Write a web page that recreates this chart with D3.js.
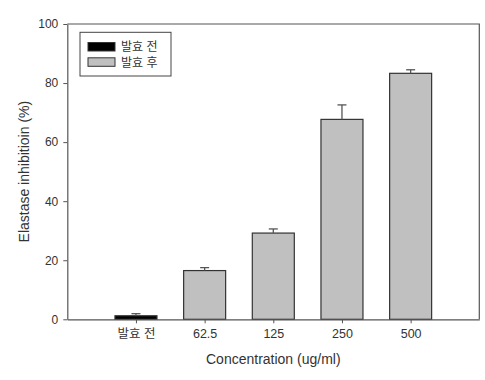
<!DOCTYPE html>
<html><head><meta charset="utf-8">
<script src="https://cdn.jsdelivr.net/npm/d3@7/dist/d3.min.js"></script>
<style>body{margin:0;background:#fff}svg{display:block}</style>
</head><body>
<svg id="c" width="485" height="380"></svg>
<script>
const categories = ["발효 전", "62.5", "125", "250", "500"];
const values = [1.2, 16.5, 29.2, 67.7, 83.3];
const errors = [0.7, 1.0, 1.4, 4.9, 1.2];
const groups = ["before", "after", "after", "after", "after"];
const legendLabels = ["발효 전", "발효 후"];
const yTicks = [0, 20, 40, 60, 80, 100];

const font = "'Liberation Sans', Arial, 'Noto Sans CJK KR', sans-serif";
const svg = d3.select("#c");
const L = 67.3, R = 479.3, T = 24, B = 319.3;
const y = d3.scaleLinear().domain([0, 100]).range([B, T]);
const x = d3.scalePoint().domain(["", ...categories, " "]).range([L, R]);
const color = d3.scaleOrdinal().domain(["before", "after"]).range(["#000000", "#c0c0c0"]);
const bw = 42;
const lineCol = "#555";

// frame top and right
svg.append("path").attr("d", `M${L},${T}H${R}V${B}`).attr("fill", "none").attr("stroke", lineCol).attr("stroke-width", 1.2);

// bars
svg.selectAll("rect.bar").data(values).join("rect")
  .attr("x", (d, i) => x(categories[i]) - bw / 2)
  .attr("y", d => y(d))
  .attr("width", bw)
  .attr("height", d => B - y(d))
  .attr("fill", (d, i) => color(groups[i]))
  .attr("stroke", "#333").attr("stroke-width", 1.2);

// error bars
const eb = svg.append("g").attr("stroke", lineCol).attr("stroke-width", 1.3);
values.forEach((v, i) => {
  const cx = x(categories[i]);
  eb.append("line").attr("x1", cx).attr("x2", cx).attr("y1", y(v)).attr("y2", y(v + errors[i]));
  eb.append("line").attr("x1", cx - 4.5).attr("x2", cx + 4.5).attr("y1", y(v + errors[i])).attr("y2", y(v + errors[i]));
});

// y axis
const ya = svg.append("g").attr("transform", `translate(${L},0)`)
  .call(d3.axisLeft(y).tickValues(yTicks).tickSize(4).tickSizeOuter(0).tickPadding(5));
ya.select(".domain").attr("stroke", lineCol).attr("stroke-width", 1.2);
ya.selectAll(".tick line").attr("stroke", lineCol);
ya.selectAll("text").attr("font-family", font).attr("font-size", 12).attr("fill", "#333");

// x axis
const xa = svg.append("g").attr("transform", `translate(0,${B})`)
  .call(d3.axisBottom(x).tickValues(categories).tickSize(4).tickSizeOuter(0).tickPadding(6));
xa.select(".domain").attr("stroke", lineCol).attr("stroke-width", 1.2);
xa.selectAll(".tick line").attr("stroke", lineCol);
xa.selectAll("text").attr("font-family", font).attr("font-size", 12.5).attr("fill", "#333");

// titles
svg.append("text").attr("x", (L + R) / 2).attr("y", 364).attr("text-anchor", "middle")
  .attr("font-family", font).attr("font-size", 14).attr("fill", "#333").text("Concentration (ug/ml)");
svg.append("text").attr("transform", `translate(29,${(T + B) / 2}) rotate(-90)`).attr("text-anchor", "middle")
  .attr("font-family", font).attr("font-size", 14).attr("fill", "#333").text("Elastase inhibitioin (%)");

// legend
const lg = svg.append("g");
lg.append("rect").attr("x", 80).attr("y", 32.3).attr("width", 91).attr("height", 43.7)
  .attr("fill", "#fff").attr("stroke", "#444").attr("stroke-width", 1);
legendLabels.forEach((t, i) => {
  const key = i === 0 ? "before" : "after";
  lg.append("rect").attr("x", 88).attr("y", 42.5 + i * 15.3).attr("width", 27).attr("height", 8.5)
    .attr("fill", color(key)).attr("stroke", "#333").attr("stroke-width", 1);
  lg.append("text").attr("x", 121).attr("y", 47 + i * 15.3).attr("dy", "0.35em")
    .attr("font-family", font).attr("font-size", 12).attr("fill", "#333").text(t);
});
</script>
</body></html>
